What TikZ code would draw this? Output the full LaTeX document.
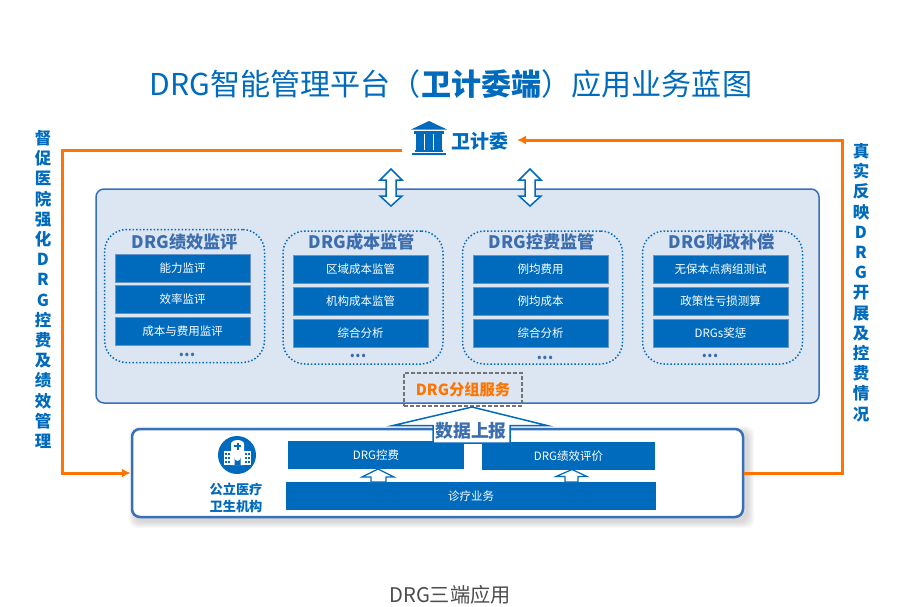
\documentclass[tikz,border=0pt]{standalone}
\usepackage{fontspec}
\setmainfont{Noto Sans CJK SC}
\definecolor{drgblue}{RGB}{0,107,189}
\definecolor{edgeblue}{RGB}{55,112,184}
\definecolor{panelblue}{RGB}{220,230,242}
\definecolor{titleblue}{RGB}{60,110,175}
\definecolor{lineorange}{RGB}{255,115,0}
\tikzset{
  panelbox/.style={draw=edgeblue,line width=1.5pt,fill=panelblue,rounded corners=8pt,inner sep=0pt},
  groupbox/.style={draw=drgblue,line width=1.5pt,dotted,rounded corners=22pt,inner sep=0pt,minimum width=160pt,minimum height=133pt},
  grouptitle/.style={text=titleblue,font=\fontsize{17.2}{19}\selectfont\bfseries,inner sep=0pt},
  itembox/.style={draw=edgeblue!75,line width=1pt,fill=drgblue,text=white,font=\fontsize{11.5}{13}\selectfont,inner sep=0pt,minimum width=135pt,minimum height=28pt},
  flowbox/.style={fill=drgblue,text=white,font=\fontsize{11.5}{13}\selectfont,inner sep=0pt,minimum height=28pt},
  flowline/.style={draw=lineorange,line width=3pt,-{Latex[length=9pt,width=9pt]}},
  hollowarrow/.style={draw=drgblue,line width=1.5pt,fill=white,line join=miter},
  sidetext/.style={text=drgblue,font=\fontsize{16.5}{20.2}\selectfont\bfseries,align=center,inner sep=0pt},
  moredots/.style={text=titleblue,font=\fontsize{16}{16}\selectfont\bfseries,inner sep=0pt}
}
\usetikzlibrary{arrows.meta}
\begin{document}
\begin{tikzpicture}[x=1pt,y=-1pt]
  \useasboundingbox (0,0) rectangle (900,606);
  % title
  \node[text=drgblue,font=\fontsize{30.1}{34}\selectfont,inner sep=0pt] (title) at (451,84) {DRG智能管理平台（\textbf{卫计委端}）应用业务蓝图};
  \node[text=black!70,font=\fontsize{20.2}{22}\selectfont,inner sep=0pt] (caption) at (450,595) {DRG三端应用};
  % top icon and label
  \node[text=drgblue,font=\fontsize{19}{21}\selectfont\bfseries,inner sep=0pt] (wjw) at (480,141) {卫计委};
  \fill[drgblue] (429,121) -- (411,129.5) -- (447,129.5) -- cycle;
  \fill[drgblue] (414,131) rectangle (444,133.5);
  \foreach \colx in {416,425,434} \fill[drgblue] (\colx,134) rectangle (\colx+7.5,150);
  \fill[drgblue] (415,150) rectangle (443,152);
  \fill[drgblue] (412,152.5) rectangle (446,155);
  % main panel
  \node[panelbox,minimum width=723pt,minimum height=214pt] (panel) at (457.5,296) {};
  % double arrows
  \foreach \ax in {391,530}
    \draw[hollowarrow] (\ax,169) -- (\ax+11,180) -- (\ax+5,180) -- (\ax+5,196) -- (\ax+11,196) -- (\ax,206) -- (\ax-11,196) -- (\ax-5,196) -- (\ax-5,180) -- (\ax-11,180) -- cycle;
  % groups
  \node[groupbox] (gjx) at (184.5,296) {};
  \node[groupbox] (gcb) at (363,297.5) {};
  \node[groupbox] (gkf) at (542.5,297.5) {};
  \node[groupbox] (gcz) at (722.5,297.5) {};
  \node[grouptitle] (tjx) at (185,242) {DRG绩效监评};
  \node[grouptitle] (tcb) at (362,242) {DRG成本监管};
  \node[grouptitle] (tkf) at (542,242) {DRG控费监管};
  \node[grouptitle] (tcz) at (722,242) {DRG财政补偿};
  \node[itembox] (jx1) at (182.5,268) {能力监评};
  \node[itembox] (jx2) at (182.5,299.5) {效率监评};
  \node[itembox] (jx3) at (182.5,331) {成本与费用监评};
  \node[itembox] (cb1) at (360.5,269.5) {区域成本监管};
  \node[itembox] (cb2) at (360.5,301.5) {机构成本监管};
  \node[itembox] (cb3) at (360.5,333) {综合分析};
  \node[itembox] (kf1) at (540.5,269.5) {例均费用};
  \node[itembox] (kf2) at (540.5,301.5) {例均成本};
  \node[itembox] (kf3) at (540.5,333) {综合分析};
  \node[itembox] (cz1) at (720.5,269.5) {无保本点病组测试};
  \node[itembox] (cz2) at (720.5,301.5) {政策性亏损测算};
  \node[itembox] (cz3) at (720.5,333) {DRGs奖惩};
  \node[moredots] (djx) at (187,355) {...};
  \node[moredots] (dcb) at (358,356) {...};
  \node[moredots] (dkf) at (545,358) {...};
  \node[moredots] (dcz) at (710,356) {...};
  % grouping service
  \node[draw=black!55,line width=1.2pt,dash pattern=on 4pt off 2pt,text=lineorange,font=\fontsize{15.3}{17}\selectfont\bfseries,inner sep=0pt,minimum width=118pt,minimum height=33pt] (fenzu) at (463,389.5) {DRG分组服务};
  % lower box with a soft shadow
  \foreach \blur in {1,2,...,7}
    \fill[black,opacity=0.025,rounded corners=8pt] (132+4-\blur,429+4-\blur) rectangle (743+4+\blur,517+4+\blur);
  \node[draw=edgeblue,line width=2.5pt,fill=white,rounded corners=8pt,inner sep=0pt,minimum width=611pt,minimum height=88pt] (hospital) at (437.5,473) {};
  \node[flowbox,minimum width=176pt] (kongfei) at (376,455) {DRG控费};
  \node[flowbox,minimum width=173pt] (pingjia) at (568.5,456) {DRG绩效评价};
  \node[flowbox,minimum width=370pt] (zhenliao) at (471,496) {诊疗业务};
  % report arrow
  \draw[hollowarrow,fill=white] (472,407) -- (547,425.5) -- (510,425.5) -- (510,443) -- (433,443) -- (433,425.5) -- (393,425.5) -- cycle;
  \node[text=titleblue,font=\fontsize{17.8}{20}\selectfont\bfseries,inner sep=0pt] (shuju) at (471,431) {数据上报};
  % small arrows
  \draw[hollowarrow,line width=1.2pt] (378,469) -- (394,477) -- (386,477) -- (386,482) -- (371,482) -- (371,477) -- (362,477) -- cycle;
  \draw[hollowarrow,line width=1.2pt] (572,469.5) -- (587,476.5) -- (578,476.5) -- (578,482) -- (565,482) -- (565,476.5) -- (556,476.5) -- cycle;
  % hospital icon
  \node[circle,fill=drgblue,minimum size=38pt,inner sep=0pt] (hicon) at (237,455) {};
  \fill[white] (224,451) rectangle (232,465);
  \fill[white] (243,451) rectangle (251,465);
  \fill[white] (231,449) -- (231,444) arc (180:360:6.5 and 4) -- (244,449) -- (244,465) -- (231,465) -- cycle;
  \fill[drgblue] (236.5,442.5) rectangle (238.5,449.5);
  \fill[drgblue] (234,445) rectangle (241,447);
  \fill[drgblue] (234.5,465) -- (234.5,458) arc (180:360:3 and -3) -- (240.5,465) -- cycle;
  \foreach \wx in {226,229,246,249} \foreach \wy in {454,458,462}
    \fill[drgblue] (\wx-0.8,\wy-1) rectangle (\wx+0.8,\wy+1);
  \node[text=drgblue,font=\fontsize{13.2}{17}\selectfont\bfseries,align=center,inner sep=0pt] (hname) at (236,497.5) {公立医疗\\卫生机构};
  % side labels
  \node[sidetext] (leftlabel) at (43,289.5) {督\\促\\医\\院\\强\\化\\D\\R\\G\\控\\费\\及\\绩\\效\\管\\理};
  \node[sidetext] (rightlabel) at (861,282.5) {真\\实\\反\\映\\D\\R\\G\\开\\展\\及\\控\\费\\情\\况};
  % orange connectors
  \coordinate (wjwout) at (402,150);
  \coordinate (leftbend) at (62,150);
  \coordinate (wjwin) at (517,140);
  \coordinate (rightbend) at (842,473);
  \draw[flowline] (wjwout) -- (leftbend) |- (hospital.west);
  \draw[flowline] (hospital.east) -- (rightbend) |- (wjwin);
\end{tikzpicture}
\end{document}
